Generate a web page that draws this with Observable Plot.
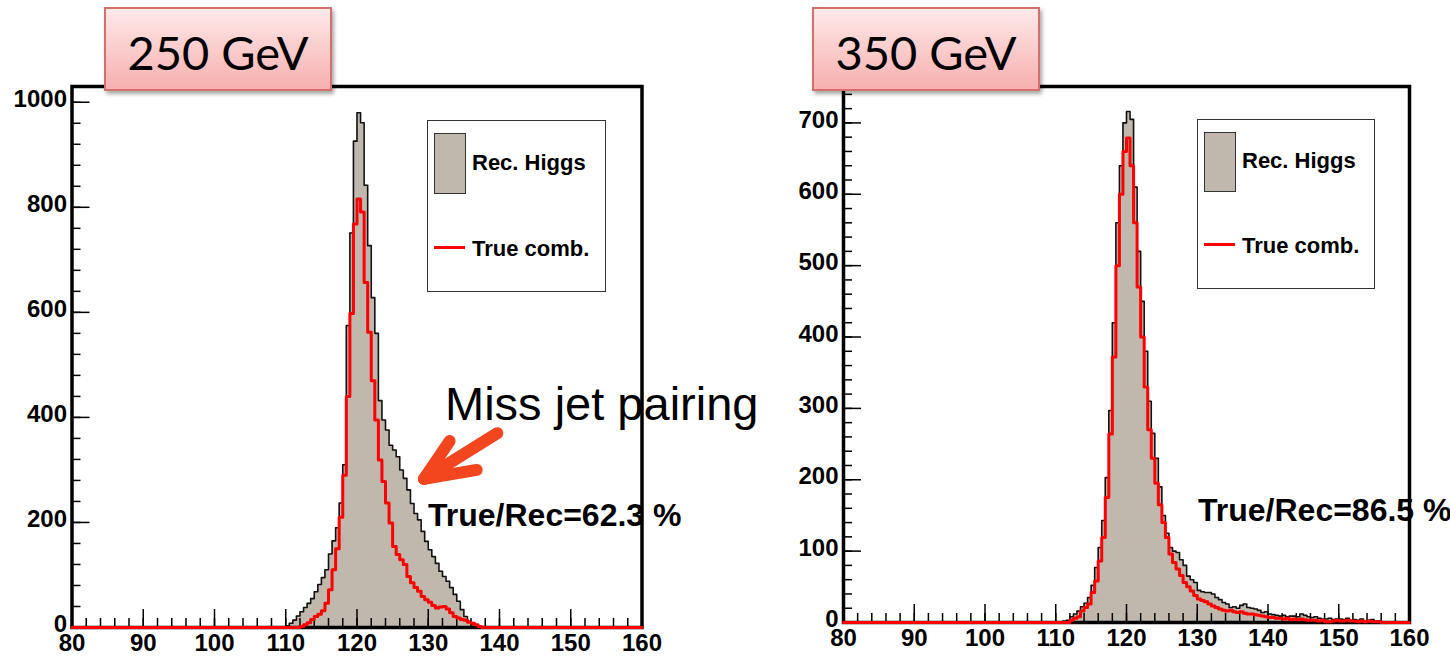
<!DOCTYPE html>
<html>
<head>
<meta charset="utf-8">
<script src="https://cdn.jsdelivr.net/npm/d3@7"></script>
<script src="https://cdn.jsdelivr.net/npm/@observablehq/plot@0.6"></script>
<style>
  html, body { margin: 0; padding: 0; background: #fff; }
  #wrap { position: relative; width: 1450px; height: 658px; overflow: hidden; font-family: "Liberation Sans", Arial, sans-serif; }
  .panel { position: absolute; top: 0; }
  .title { position: absolute; top: 7px; width: 228px; height: 84px; box-sizing: border-box; padding-top: 20px;
           border: 2px solid #d4706c; background: linear-gradient(#fee9e9, #f7b0af);
           box-shadow: 2px 3px 4px rgba(0,0,0,0.35); font-family: Lato, "Open Sans", sans-serif;
           font-size: 47px; line-height: 1; text-align: center; color: #000; z-index: 5; }
  .legend { position: absolute; border: 1.5px solid #333; background: #fff; box-sizing: border-box; z-index: 3; }
  .swatch { position: absolute; background: #c0b7ad; border: 1.5px solid #333; box-sizing: border-box; z-index: 4; }
  .redline { position: absolute; height: 3px; background: #ff0000; z-index: 4; }
  .lt { position: absolute; font-weight: bold; font-size: 22px; line-height: 1; color: #000; z-index: 4; white-space: nowrap; }
  .ratio { position: absolute; font-weight: bold; font-size: 32px; line-height: 1; color: #000; z-index: 4; white-space: nowrap; }
  .miss { position: absolute; font-size: 47px; line-height: 1; color: #000; z-index: 4; white-space: nowrap; }
</style>
</head>
<body>
<div id="wrap">
  <div class="panel" id="p250" style="left:0px"></div>
  <div class="panel" id="p350" style="left:730px"></div>

  <div class="title" style="left:104px">250 GeV</div>
  <div class="title" style="left:812px">350 GeV</div>

  <div class="legend" style="left:427px;top:120px;width:179px;height:172px"></div>
  <div class="swatch" style="left:434px;top:133px;width:32px;height:61px"></div>
  <div class="lt" style="left:472px;top:152px">Rec. Higgs</div>
  <div class="redline" style="left:434px;top:246px;width:31px"></div>
  <div class="lt" style="left:472px;top:238px">True comb.</div>

  <div class="legend" style="left:1197px;top:119px;width:178px;height:170px"></div>
  <div class="swatch" style="left:1204px;top:132px;width:32px;height:60px"></div>
  <div class="lt" style="left:1242px;top:150px">Rec. Higgs</div>
  <div class="redline" style="left:1204px;top:243px;width:31px"></div>
  <div class="lt" style="left:1242px;top:235px">True comb.</div>

  <div class="miss" style="left:445px;top:380px">Miss jet pairing</div>
  <div class="ratio" style="left:428px;top:499px">True/Rec=62.3 %</div>
  <div class="ratio" style="left:1198px;top:494px">True/Rec=86.5 %</div>
</div>
<script>
// ---- Data (0.5 GeV bins) ----
const binWidth = 0.5;
const xMin = 80, xMax = 160;

// 250 GeV
const rec250Start = 109.5;
const rec250 = [1,3,8,14,22,30,38,46,55,68,82,95,110,140,165,190,237,
  310,575,751,926,980,961,842,727,628,560,
  432,395,376,347,338,325,300,284,262,236,217,205,183,164,148,135,122,107,97,88,76,63,50,34,21,12,6,2];
const true250Start = 112;
const true250 = [2,5,9,15,21,25,32,46,72,110,150,210,
  290,440,598,768,816,791,657,562,470,395,
  319,278,237,199,154,139,129,120,97,85,76,69,59,53,48,42,37,39,40,35,28,21,18,15,14,10,8,5,2];

// 350 GeV
const rec350Start = 109.5;
const rec350 = [1,1,1,2,3,8,12,16,22,27,35,52,77,105,143,203,297,
  420,560,640,700,716,705,610,520,450,380,310,265,230,190,
  150,125,105,100,98,88,80,65,60,56,45,43,42,42,40,35,32,28,26,21,22,20,24,26,21,20,19,17,14,15,
  12,11,10,9,10,8,9,9,8,12,10,8,7,8,6,5,5,6,4,5,5,4,6,3,4,3,5,2,3,4,2,2,1,1];
const true350Start = 112;
const true350 = [3,6,8,16,21,26,42,58,86,119,175,264,
  372,500,600,660,679,640,560,470,400,330,270,230,195,165,
  140,119,96,84,75,66,56,50,44,38,33,31,29,26,23,21,19,17,16,17,15,14,15,13,12,12,11,10,9,8,7,7,6,6,
  5,6,4,5,4,5,4,3,3,3,2,3,1,1,2,3,2,2,3,2,2,1,2,1,2,1,1,1];

// Axis ticks
const xLabels = [80,90,100,110,120,130,140,150,160];
const xMinor = d3.range(80, 161, 2);
const y250Labels = [0,200,400,600,800,1000];
const y250Minor = d3.range(0, 1001, 40);
const y350Labels = [0,100,200,300,400,500,600,700];
const y350Minor = d3.range(0, 741, 20);

// Annotation arrow (250 GeV panel), in data coordinates
const arrowSegs = [
  {x1: 139.7, y1: 370, x2: 129.4, y2: 283},
  {x1: 129.4, y1: 283, x2: 133.0, y2: 355},
  {x1: 129.4, y1: 283, x2: 136.8, y2: 300}
];

function steps(start, vals) {
  const out = [];
  const n = Math.round((xMax - xMin) / binWidth);
  for (let i = 0; i <= n; i++) {
    const x = xMin + i * binWidth;
    const k = Math.round((x - start) / binWidth);
    out.push({x, y: (k >= 0 && k < vals.length) ? vals[k] : 0});
  }
  return out;
}

function panel({width, height, mL, mR, mT, mB, yMax, yLabels, yMinor, rec, tru, extra = []}) {
  const innerH = height - mT - mB;
  const innerW = width - mL - mR;
  return Plot.plot({
    width, height,
    marginLeft: mL, marginRight: mR, marginTop: mT, marginBottom: mB,
    x: {domain: [xMin, xMax], label: null},
    y: {domain: [0, yMax], label: null},
    style: {fontFamily: "'Liberation Sans', Arial, sans-serif", fontWeight: "bold", fontSize: "24px",
            overflow: "visible", background: "transparent", color: "#000"},
    marks: [
      Plot.areaY(rec, {x: "x", y: "y", curve: "step-after", fill: "#c0b7ad"}),
      Plot.tickX(xLabels, {x: d => d, stroke: "#000", strokeWidth: 1.5, insetTop: innerH - 18}),
      Plot.tickX(xMinor, {x: d => d, stroke: "#000", strokeWidth: 1.5, insetTop: innerH - 9}),
      Plot.tickY(yLabels, {y: d => d, stroke: "#000", strokeWidth: 1.5, insetRight: innerW - 18}),
      Plot.tickY(yMinor, {y: d => d, stroke: "#000", strokeWidth: 1.5, insetRight: innerW - 9}),
      Plot.frame({stroke: "#000", strokeWidth: 3.5}),
      Plot.line(rec, {x: "x", y: "y", curve: "step-after", stroke: "#111", strokeWidth: 1.6}),
      Plot.line(tru, {x: "x", y: "y", curve: "step-after", stroke: "#ff0000", strokeWidth: 3}),
      Plot.axisX(xLabels, {tickSize: 0, tickPadding: 6, tickFormat: d => String(d), fontSize: 24, fontWeight: "bold", label: null}),
      Plot.axisY(yLabels, {tickSize: 0, tickPadding: 5, tickFormat: d => String(d), fontSize: 24, fontWeight: "bold", label: null, dy: -3}),
      ...extra
    ]
  });
}

const left = panel({
  width: 730, height: 658, mL: 71.5, mR: 730 - 641.5, mT: 86, mB: 31,
  yMax: 1030, yLabels: y250Labels, yMinor: y250Minor,
  rec: steps(rec250Start, rec250), tru: steps(true250Start, true250),
  extra: [
    Plot.link(arrowSegs, {x1: "x1", y1: "y1", x2: "x2", y2: "y2", stroke: "#f3461f", strokeWidth: 12, strokeLinecap: "round"})
  ]
});
document.getElementById("p250").appendChild(left);

const right = panel({
  width: 720, height: 658, mL: 843 - 730, mR: 1450 - 1409, mT: 86, mB: 36,
  yMax: 751, yLabels: y350Labels, yMinor: y350Minor,
  rec: steps(rec350Start, rec350), tru: steps(true350Start, true350)
});
document.getElementById("p350").appendChild(right);
</script>
</body>
</html>
